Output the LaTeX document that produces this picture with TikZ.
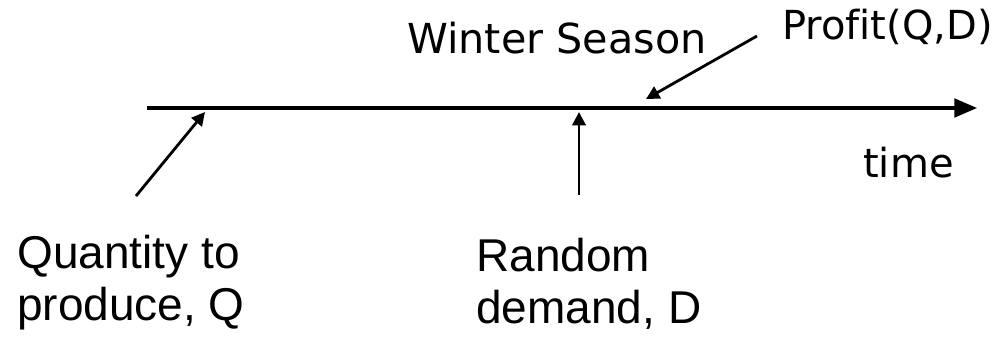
\documentclass[tikz,border=0pt]{standalone}
\usepackage{fontspec}
\setmainfont{Liberation Sans}
\newfontfamily\topfont[Ligatures=NoCommon]{DejaVu Sans}
\usetikzlibrary{arrows.meta}
\tikzset{
  toplabel/.style={anchor=base west, inner sep=0pt, font=\topfont\fontsize{31pt}{37pt}\selectfont},
  botlabel/.style={anchor=base west, inner sep=0pt, align=left, font=\fontsize{34.5pt}{39pt}\selectfont},
  axisline/.style={line width=2.3pt, -{Triangle[length=17pt,width=14pt]}},
  pointer/.style={line width=2.1pt, -{Triangle[length=10pt,width=10pt]}}
}
\begin{document}
\begin{tikzpicture}[x=0.75pt,y=-0.75pt]
\fill[white] (0,0) rectangle (998,336);
\path[use as bounding box] (0,0) rectangle (998,336);
% texts
\node[toplabel] (winter) at (407,53) {Winter Season};
\node[toplabel, font=\topfont\fontsize{30pt}{36pt}\selectfont] (profit) at (782,39) {Profit(Q,D)};
\node[toplabel, font=\topfont\fontsize{30pt}{36pt}\selectfont] (time) at (863,177) {time};
\node[botlabel] (qty) at (17,320) {Quantity to\\produce, Q};
\node[botlabel] (rnd) at (476,323) {Random\\demand, D};
% coordinates
\coordinate (tstart) at (147,108);
\coordinate (tend) at (977,108);
\coordinate (qfrom) at (136,196);
\coordinate (qto) at (205,112);
\coordinate (dfrom) at (579,195);
\coordinate (dto) at (579,112);
\coordinate (pfrom) at (757,36);
\coordinate (pto) at (646,99);
% connectors
\draw[axisline] (tstart) -- (tend);
\draw[pointer] (qfrom) -- (qto);
\draw[pointer] (dfrom) -- (dto);
\draw[pointer] (pfrom) -- (pto);
\end{tikzpicture}
\end{document}
